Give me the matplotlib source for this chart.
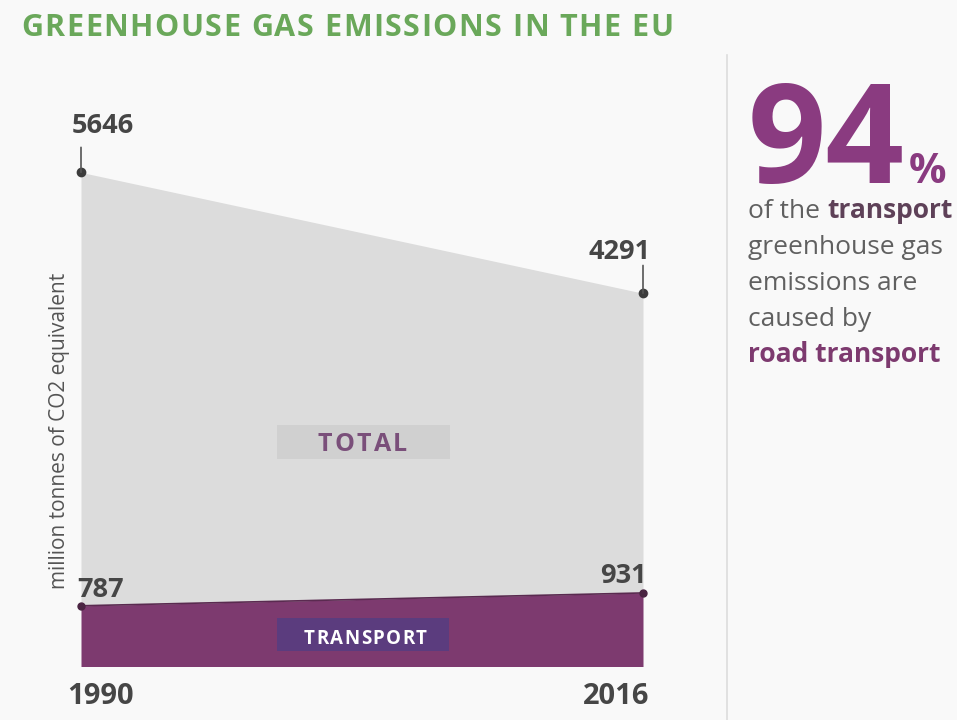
import matplotlib.pyplot as plt
from matplotlib.patches import Rectangle

plt.rcParams['font.family'] = ['Open Sans', 'DejaVu Sans']

# EU greenhouse gas emissions, million tonnes of CO2 equivalent
years = [1990, 2016]
total = [5646, 4291]
transport = [787, 931]
road_share = 94

BG = '#f9f9f9'
GREY = '#dcdcdc'
PURPLE = '#7d3a6f'
DARK = '#464646'

W, H = 957, 720
fig = plt.figure(figsize=(W / 100, H / 100), dpi=100, facecolor=BG)


def fx(px):
    return px / W


def fy(py):
    return 1 - py / H


def tracked(ax, s, x, y, gap, **kw):
    # lay out letters one after another with extra spacing (in points)
    art = ax.text(x, y, s[0], transform=fig.transFigure, ha='left', va='baseline', **kw)
    for ch in s[1:]:
        art = ax.annotate(ch, xy=(1, 0), xycoords=art, xytext=(gap, 0),
                          textcoords='offset points', ha='left', va='bottom',
                          annotation_clip=False, **kw)
    return art


# plot area in pixels: x 81..643, y 100..666
ax = fig.add_axes([fx(81), fy(666), fx(643) - fx(81), fy(100) - fy(666)])
ax.set_facecolor(BG)
ax.set_xlim(years[0], years[-1])
ax.set_ylim(112, 6457)
ax.axis('off')

ax.fill_between(years, transport, total, color=GREY, lw=0)
ax.fill_between(years, 0, transport, color=PURPLE, lw=0)
ax.plot(years, transport, color='#5a2a50', lw=1.2)
ax.plot(years, total, 'o', color='#3c3c3c', ms=6, clip_on=False)
ax.plot(years, transport, 'o', color='#4a2442', ms=5, clip_on=False)

# value labels
lbl = dict(fontsize=19.5, fontweight='bold', color=DARK, textcoords='offset points',
           annotation_clip=False)
ax.annotate(f'{total[0]}', (years[0], total[0]), xytext=(16, 24), ha='center', va='bottom', **lbl)
ax.annotate(f'{total[1]}', (years[1], total[1]), xytext=(-17, 20), ha='center', va='bottom', **lbl)
ax.annotate(f'{transport[0]}', (years[0], transport[0]), xytext=(14, 2), ha='center', va='bottom', **lbl)
ax.annotate(f'{transport[1]}', (years[1], transport[1]), xytext=(-14, 3), ha='center', va='bottom', **lbl)

# leader lines from labels to points
for x, y, h in [(years[0], total[0], 18), (years[1], total[1], 20)]:
    ax.annotate('', (x, y), xytext=(0, h), textcoords='offset points', annotation_clip=False,
                arrowprops=dict(arrowstyle='-', color='#555555', lw=1.2, shrinkA=0, shrinkB=0))

# series labels
ax.add_patch(Rectangle((0.349, 0.366), 0.308, 0.06, transform=ax.transAxes,
                       color='#d0d0d0', lw=0))
tracked(ax, 'TOTAL', fx(318), fy(451), 1.6, fontsize=18, fontweight='bold', color='#7a4f7a')
ax.add_patch(Rectangle((0.349, 0.0265), 0.306, 0.0583, transform=ax.transAxes,
                       color='#5b3c7e', lw=0))
tracked(ax, 'TRANSPORT', fx(304), fy(644), 1.0, fontsize=13.5, fontweight='bold', color='white')

# years
for x, dx in [(years[0], 14), (years[1], -19)]:
    ax.annotate(str(x), (x, 112), xytext=(dx, -22), textcoords='offset points',
                ha='center', va='center', fontsize=21, fontweight='bold', color=DARK,
                annotation_clip=False)

fig.text(fx(60), fy(431), 'million tonnes of CO2 equivalent', rotation=90,
         ha='center', va='center', fontsize=15, color='#555555')

tracked(ax, 'GREENHOUSE GAS EMISSIONS IN THE EU', fx(21), fy(36), 1.05,
        fontsize=22, fontweight='bold', color='#6aa85a')

# separator
fig.add_artist(plt.Line2D([fx(727), fx(727)], [fy(55), fy(720)], color='#dddddd', lw=1.2))

# side note
fig.text(fx(748), fy(183), f'{road_share}', ha='left', va='baseline',
         fontsize=99, fontweight='bold', color='#8a3b80')
fig.text(fx(909), fy(183), '%', ha='left', va='baseline',
         fontsize=30, fontweight='bold', color='#8a3b80')

GREYTXT = '#606060'
FS = 19
t1 = fig.text(fx(748), fy(218), 'of the', ha='left', va='baseline', fontsize=FS, color=GREYTXT)
ax.annotate('transport', xy=(1, 0), xycoords=t1, xytext=(5, 0), textcoords='offset points',
            ha='left', va='bottom', fontsize=FS, fontweight='bold', color='#5e4158',
            annotation_clip=False)
for i, line in enumerate(['greenhouse gas', 'emissions are', 'caused by']):
    fig.text(fx(748), fy(254 + 36 * i), line, ha='left', va='baseline', fontsize=FS, color=GREYTXT)
fig.text(fx(748), fy(362), 'road transport', ha='left', va='baseline', fontsize=FS,
         fontweight='bold', color='#7d3a6f')

fig.savefig('out.png', dpi=100, facecolor=BG)
